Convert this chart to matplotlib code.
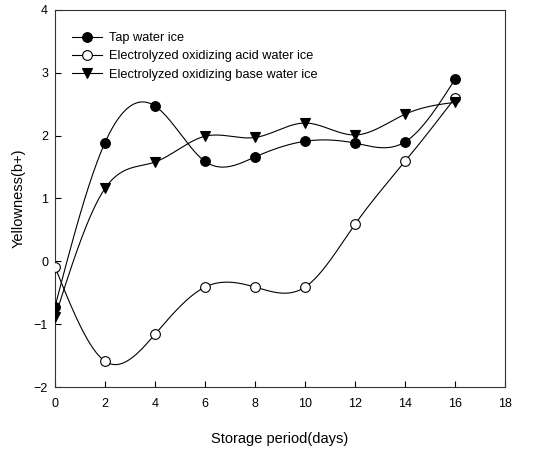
import numpy as np
import matplotlib
matplotlib.use("Agg")
import matplotlib.pyplot as plt

plt.rcParams['font.family'] = ['Liberation Sans', 'DejaVu Sans']

days = [0, 2, 4, 6, 8, 10, 12, 14, 16]
tap_water = [-0.72, 1.89, 2.47, 1.59, 1.66, 1.91, 1.88, 1.90, 2.90]
acid_water = [-0.09, -1.59, -1.16, -0.41, -0.41, -0.41, 0.59, 1.59, 2.60]
base_water = [-0.89, 1.16, 1.58, 1.99, 1.97, 2.20, 2.01, 2.34, 2.53]

labels = ["Tap water ice",
          "Electrolyzed oxidizing acid water ice",
          "Electrolyzed oxidizing base water ice"]


def natural_spline(x, y, n=400):
    """Smooth natural cubic spline through the given points."""
    x = np.asarray(x, float)
    y = np.asarray(y, float)
    k = len(x)
    h = np.diff(x)
    A = np.zeros((k, k))
    b = np.zeros(k)
    A[0, 0] = A[-1, -1] = 1.0
    for i in range(1, k - 1):
        A[i, i - 1] = h[i - 1]
        A[i, i] = 2 * (h[i - 1] + h[i])
        A[i, i + 1] = h[i]
        b[i] = 3 * ((y[i + 1] - y[i]) / h[i] - (y[i] - y[i - 1]) / h[i - 1])
    c = np.linalg.solve(A, b)
    xs = np.linspace(x[0], x[-1], n)
    idx = np.clip(np.searchsorted(x, xs) - 1, 0, k - 2)
    dx = xs - x[idx]
    hi = h[idx]
    bi = (y[idx + 1] - y[idx]) / hi - hi * (2 * c[idx] + c[idx + 1]) / 3
    di = (c[idx + 1] - c[idx]) / (3 * hi)
    ys = y[idx] + bi * dx + c[idx] * dx ** 2 + di * dx ** 3
    return xs, ys


fig = plt.figure(figsize=(5.42, 4.5), dpi=100)
ax = fig.add_axes([0.1015, 0.14, 0.8305, 0.838])

styles = [
    dict(marker='o', mfc='black', mec='black'),
    dict(marker='o', mfc='white', mec='black'),
    dict(marker='v', mfc='black', mec='black'),
]

for series, label, st in zip([tap_water, acid_water, base_water], labels, styles):
    xs, ys = natural_spline(days, series)
    ax.plot(xs, ys, color='black', lw=0.8, zorder=2)
    ax.plot(days, series, linestyle='none', markersize=7, mew=0.8,
            zorder=3, **st)
    ax.plot([], [], color='black', lw=0.8, markersize=7, mew=0.8,
            label=label, **st)

ax.set_xlim(0, 18)
ax.set_ylim(-2, 4)
ax.set_xticks(range(0, 19, 2))
ax.set_yticks(range(-2, 5))
ax.tick_params(direction='in', length=4, width=0.8, labelsize=9)
ax.tick_params(axis='x', pad=8)
ax.tick_params(axis='y', pad=5)
for sp in ax.spines.values():
    sp.set_linewidth(0.8)
    sp.set_color('#333333')

ax.set_xlabel("Storage period(days)", fontsize=10.5, labelpad=16)
ax.set_ylabel("Yellowness(b+)", fontsize=10.5, labelpad=6)

ax.legend(loc='upper left', frameon=False, fontsize=9.2, handlelength=2.4,
          handletextpad=0.5, labelspacing=0.5, borderaxespad=0.0,
          bbox_to_anchor=(0.026, 0.955))

fig.savefig("out.png", dpi=100)
